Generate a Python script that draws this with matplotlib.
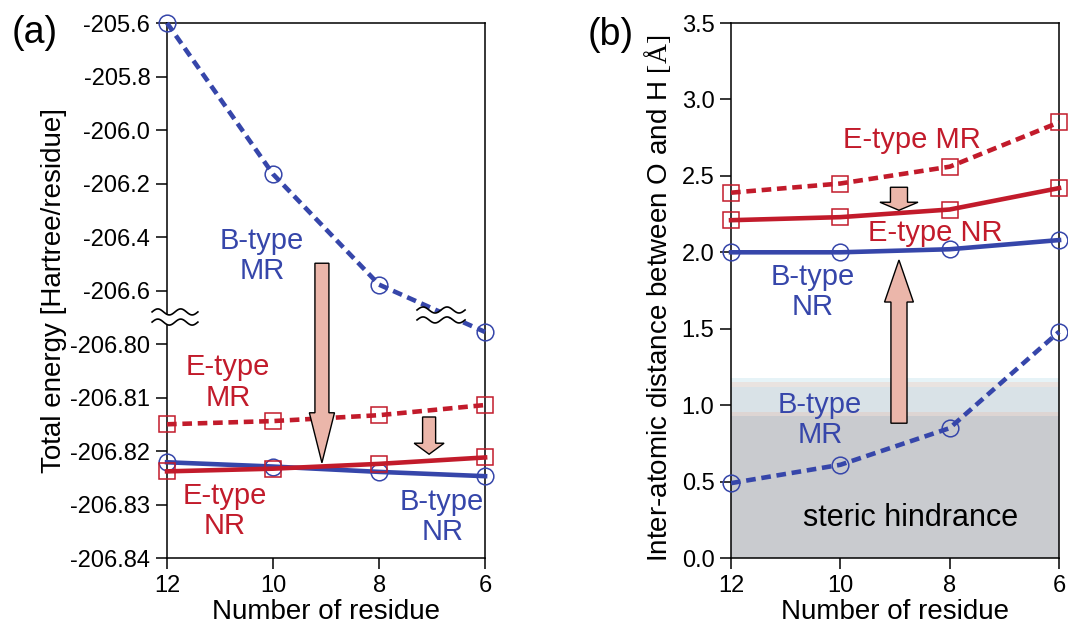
import numpy as np
from matplotlib import pyplot as plt
from matplotlib.patches import FancyArrow

plt.rcParams['font.family'] = ['Liberation Sans', 'DejaVu Sans']
plt.rcParams['mathtext.fontset'] = 'custom'
plt.rcParams['mathtext.rm'] = 'Liberation Serif'

# number of residues (x axis, plotted from 12 down to 6)
residues = [12, 10, 8, 6]

# (a) total energy [Hartree/residue]
energy_b_mr = [-205.60, -206.165, -206.578, -206.755]
energy_e_mr = [-206.8150, -206.8144, -206.8133, -206.8114]
energy_e_nr = [-206.8238, -206.8233, -206.8224, -206.8212]
energy_b_nr = [-206.8221, -206.8229, -206.8239, -206.8247]
energy_ticks = [-205.6, -205.8, -206.0, -206.2, -206.4, -206.6,
                -206.80, -206.81, -206.82, -206.83, -206.84]
energy_ticklabels = ['-205.6', '-205.8', '-206.0', '-206.2', '-206.4', '-206.6',
                     '-206.80', '-206.81', '-206.82', '-206.83', '-206.84']

# (b) inter-atomic distance between O and H [A]
dist_e_mr = [2.39, 2.45, 2.56, 2.85]
dist_e_nr = [2.21, 2.23, 2.28, 2.42]
dist_b_nr = [2.00, 2.00, 2.02, 2.08]
dist_b_mr = [0.49, 0.61, 0.85, 1.48]
dist_ticks = [0.0, 0.5, 1.0, 1.5, 2.0, 2.5, 3.0, 3.5]
steric_limit = 0.93

BLUE = '#3646aa'
RED = '#c21b2b'
ARROW = '#ebb6aa'
DASH = (0, (2.1, 1.25))


def _fwd(v):
    """Broken energy axis: coarse scale above the break, fine scale below."""
    v = np.asarray(v, dtype=float)
    up = (v + 205.6) / 0.2
    lo = -6.0 + (v + 206.80) / 0.01
    mid = -5.9 + (v + 206.78) * 5.0
    return np.where(v >= -206.78, up, np.where(v <= -206.80, lo, mid))


def _inv(u):
    u = np.asarray(u, dtype=float)
    up = -205.6 + 0.2 * u
    lo = -206.80 + 0.01 * (u + 6.0)
    mid = -206.78 + (u + 5.9) / 5.0
    return np.where(u >= -5.9, up, np.where(u <= -6.0, lo, mid))


def style_axes(ax):
    for s in ax.spines.values():
        s.set_linewidth(1.1)
    ax.tick_params(direction='out', length=8, width=1.1, labelsize=17, pad=4,
                   top=False, right=False)
    ax.set_xlim(12, 6)
    ax.set_xticks(residues)
    ax.set_xlabel('Number of residue', fontsize=20, labelpad=2)


def series(ax, y, color, marker, dashed):
    ax.plot(residues, y, color=color, lw=3.3, ls=DASH if dashed else '-',
            marker=marker, ms=12, mfc='none', mec=color, mew=1.1,
            clip_on=False, zorder=3)


def down_arrow(ax, x, top, tip, shaft, head, head_len):
    ax.add_patch(FancyArrow(x, top, 0, tip - top, width=shaft, head_width=head,
                            head_length=head_len, length_includes_head=True,
                            transform=ax.transAxes, fc=ARROW, ec='black', lw=1.0,
                            zorder=4))


def squiggle(ax, x0, x1, y_top, y_bot, amp=0.0056):
    t = np.linspace(0, 1, 120)
    xs = x0 + (x1 - x0) * t
    wave = amp * np.sin(2 * np.pi * 2 * t)
    ax.fill_between(xs, y_bot + wave, y_top + wave, color='white', lw=0,
                    transform=ax.transAxes, clip_on=False, zorder=5)
    for y0 in (y_top, y_bot):
        ax.plot(xs, y0 + wave, color='black', lw=1.2, transform=ax.transAxes,
                clip_on=False, zorder=6)


fig = plt.figure(figsize=(10.68, 6.27), dpi=100)

# ---- panel (a)
ax = fig.add_axes([0.1564, 0.110, 0.2978, 0.8533])
ax.set_yscale('function', functions=(_fwd, _inv))
series(ax, energy_b_nr, BLUE, 'o', False)
series(ax, energy_e_nr, RED, 's', False)
series(ax, energy_e_mr, RED, 's', True)
series(ax, energy_b_mr, BLUE, 'o', True)
ax.set_ylim(-206.84, -205.6)
ax.set_yticks(energy_ticks)
ax.set_yticklabels(energy_ticklabels)
style_axes(ax)
ax.set_ylabel('Total energy [Hartree/residue]', fontsize=20)
ax.yaxis.set_label_coords(-0.314, 0.5)

txt = dict(transform=ax.transAxes, ha='center', va='center', fontsize=21,
           linespacing=1.1)
ax.text(0.299, 0.564, 'B-type\nMR', color=BLUE, **txt)
ax.text(0.192, 0.328, 'E-type\nMR', color=RED, **txt)
ax.text(0.182, 0.088, 'E-type\nNR', color=RED, **txt)
ax.text(0.865, 0.076, 'B-type\nNR', color=BLUE, **txt)

down_arrow(ax, 0.487, 0.551, 0.178, 0.044, 0.079, 0.0935)
down_arrow(ax, 0.824, 0.2636, 0.194, 0.041, 0.094, 0.0206)
squiggle(ax, -0.047, 0.097, 0.460, 0.441)
squiggle(ax, 0.786, 0.937, 0.4636, 0.445)

fig.text(0.011, 0.947, '(a)', fontsize=27, ha='left', va='center')

# ---- panel (b)
ax = fig.add_axes([0.6845, 0.110, 0.3071, 0.8533])
ax.axhspan(0, steric_limit, color='#c9cbcf', lw=0, zorder=0)
ax.axhspan(steric_limit, 0.955, color='#ddd5d3', lw=0, zorder=0)
ax.axhspan(0.955, 1.12, color='#d9e2e7', lw=0, zorder=0)
ax.axhspan(1.12, 1.15, color='#e9e3e0', lw=0, zorder=0)
ax.axhspan(1.15, 1.18, color='#e6f3f7', lw=0, zorder=0)
series(ax, dist_b_nr, BLUE, 'o', False)
series(ax, dist_e_nr, RED, 's', False)
series(ax, dist_e_mr, RED, 's', True)
series(ax, dist_b_mr, BLUE, 'o', True)
ax.set_ylim(0, 3.5)
ax.set_yticks(dist_ticks)
ax.set_yticklabels(['%.1f' % t for t in dist_ticks])
style_axes(ax)
ax.set_ylabel('Inter-atomic distance between O and H $\\mathrm{[\u00c5]}$', fontsize=20)
ax.yaxis.set_label_coords(-0.177, 0.485)

txt = dict(transform=ax.transAxes, ha='center', va='center', fontsize=21,
           linespacing=1.1)
ax.text(0.552, 0.781, 'E-type MR', color=RED, **txt)
ax.text(0.622, 0.607, 'E-type NR', color=RED, **txt)
ax.text(0.250, 0.497, 'B-type\nNR', color=BLUE, **txt)
ax.text(0.271, 0.258, 'B-type\nMR', color=BLUE, **txt)
ax.text(0.546, 0.075, 'steric hindrance', color='black', fontsize=22,
        transform=ax.transAxes, ha='center', va='center')

down_arrow(ax, 0.512, 0.693, 0.650, 0.052, 0.116, 0.015)
down_arrow(ax, 0.512, 0.252, 0.557, 0.049, 0.088, 0.0785)

fig.text(0.55, 0.944, '(b)', fontsize=27, ha='left', va='center')

fig.savefig('out.png', dpi=100)
